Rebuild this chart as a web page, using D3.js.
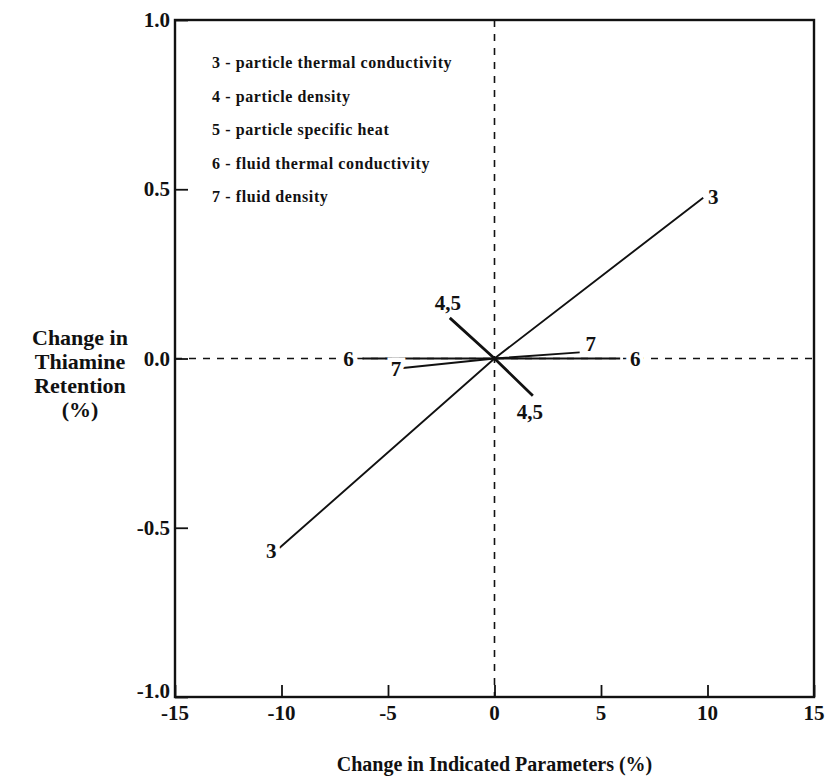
<!DOCTYPE html>
<html>
<head>
<meta charset="utf-8">
<script src="https://cdn.jsdelivr.net/npm/d3@7"></script>
<style>
  body { margin: 0; background: #fff; }
  svg text { font-family: "Liberation Serif", "DejaVu Serif", serif; font-weight: bold; fill: #111; }
</style>
</head>
<body>
<div id="chart"></div>
<script>
// sensitivity lines: end points (negative change, positive change), each passes through origin
const seriesIds = ["3", "4,5", "6", "7"];
const lowEnds = [[-10.1, -0.56], [1.8, -0.11], [-6.2, 0.0], [-4.3, -0.028]];
const highEnds = [[9.8, 0.475], [-2.1, 0.12], [5.9, 0.0], [4.0, 0.018]];
const xTicks = [-15, -10, -5, 0, 5, 10, 15];
const yTicks = [-1.0, -0.5, 0.0, 0.5, 1.0];
const legendItems = [
  "3 - particle thermal conductivity",
  "4 - particle density",
  "5 - particle specific heat",
  "6 - fluid thermal conductivity",
  "7 - fluid density"
];

const width = 830, height = 780;
const margin = { top: 20, right: 16, bottom: 83, left: 175 };

const x = d3.scaleLinear().domain([-15, 15]).range([margin.left, width - margin.right]);
const y = d3.scaleLinear().domain([-1, 1]).range([height - margin.bottom, margin.top]);

const svg = d3.select("#chart").append("svg")
  .attr("width", width)
  .attr("height", height);

// zero reference lines
svg.append("line")
  .attr("x1", x(0)).attr("x2", x(0))
  .attr("y1", y(1)).attr("y2", y(-1))
  .attr("stroke", "#111").attr("stroke-width", 1.6)
  .attr("stroke-dasharray", "7,7");
svg.append("line")
  .attr("x1", x(-15)).attr("x2", x(15))
  .attr("y1", y(0)).attr("y2", y(0))
  .attr("stroke", "#111").attr("stroke-width", 1.6)
  .attr("stroke-dasharray", "7,7");

// frame
svg.append("rect")
  .attr("x", x(-15)).attr("y", y(1))
  .attr("width", x(15) - x(-15)).attr("height", y(-1) - y(1))
  .attr("fill", "none").attr("stroke", "#111").attr("stroke-width", 2.4);

// axes with inside ticks
const xAxis = svg.append("g")
  .attr("transform", `translate(0, ${y(-1)})`)
  .call(d3.axisTop(x).tickValues(xTicks).tickSize(12).tickFormat(""));
xAxis.select(".domain").remove();
xAxis.selectAll(".tick line").attr("stroke", "#111").attr("stroke-width", 1.8);

svg.append("g").selectAll("text")
  .data(xTicks)
  .enter().append("text")
  .attr("x", d => x(d))
  .attr("y", y(-1) + 23)
  .attr("text-anchor", "middle")
  .attr("font-size", 21)
  .text(d => d);

const yAxis = svg.append("g")
  .attr("transform", `translate(${x(-15)}, 0)`)
  .call(d3.axisRight(y).tickValues(yTicks).tickSize(13).tickFormat(""));
yAxis.select(".domain").remove();
yAxis.selectAll(".tick line").attr("stroke", "#111").attr("stroke-width", 1.8);

svg.append("g").selectAll("text")
  .data(yTicks)
  .enter().append("text")
  .attr("x", x(-15) - 5)
  .attr("y", d => y(d) + (d === -1 ? 1 : 7))
  .attr("text-anchor", "end")
  .attr("font-size", 21)
  .text(d => d3.format(".1f")(d).replace("−", "-"));

// series lines
const line = d3.line().x(d => x(d[0])).y(d => y(d[1]));
const data = seriesIds.map((id, i) => ({ id: id, pts: [lowEnds[i], [0, 0], highEnds[i]] }));

svg.append("g").selectAll("path")
  .data(data)
  .enter().append("path")
  .attr("d", d => line(d.pts))
  .attr("fill", "none")
  .attr("stroke", "#111")
  .attr("stroke-width", d => d.id === "4,5" ? 2.8 : 1.9);

// end labels
const labelPos = {
  "3": [[-8, 10], [10, 6]],
  "4,5": [[-3, 23], [-2, -8]],
  "6": [[-14, 7], [15, 7]],
  "7": [[-7, 8], [11, -1]]
};
const labels = [];
data.forEach(d => {
  const p = labelPos[d.id];
  labels.push({ id: d.id, pt: d.pts[0], dx: p[0][0], dy: p[0][1] });
  labels.push({ id: d.id, pt: d.pts[2], dx: p[1][0], dy: p[1][1] });
});

svg.append("g").selectAll("text")
  .data(labels)
  .enter().append("text")
  .attr("x", d => x(d.pt[0]) + d.dx)
  .attr("y", d => y(d.pt[1]) + d.dy)
  .attr("text-anchor", "middle")
  .attr("font-size", 21)
  .attr("stroke", "#fff")
  .attr("stroke-width", 9)
  .attr("paint-order", "stroke")
  .text(d => d.id);

// legend
svg.append("g").selectAll("text")
  .data(legendItems)
  .enter().append("text")
  .attr("x", 212)
  .attr("y", (d, i) => 68 + i * 33.5)
  .attr("font-size", 16)
  .attr("letter-spacing", 0.6)
  .text(d => d);

// axis titles
svg.append("text")
  .attr("x", x(0))
  .attr("y", 771)
  .attr("text-anchor", "middle")
  .attr("font-size", 20)
  .text("Change in Indicated Parameters (%)");

const yTitle = svg.append("text")
  .attr("text-anchor", "middle")
  .attr("font-size", 22);
["Change in", "Thiamine", "Retention", "(%)"].forEach((t, i) => {
  yTitle.append("tspan")
    .attr("x", 80)
    .attr("y", 345 + i * 24)
    .text(t);
});
</script>
</body>
</html>
